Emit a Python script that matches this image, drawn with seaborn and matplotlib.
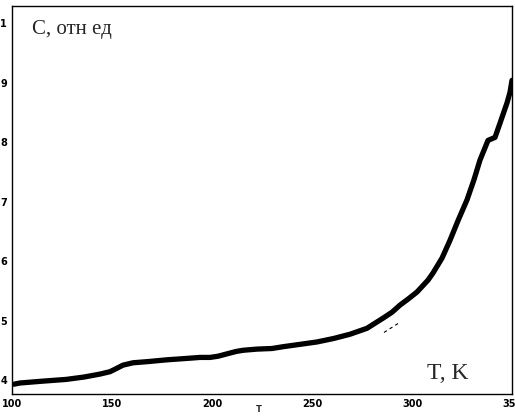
import matplotlib
matplotlib.use("Agg")
import matplotlib.pyplot as plt
import seaborn as sns
import pandas as pd

# Data
T = [101, 104, 115, 127, 136, 144, 149, 152, 155.5, 160.5, 168, 177.5, 186, 194, 199,
     203, 207.5, 212, 215.5, 222.5, 230, 235.5, 244, 252.5, 261, 269, 277.5, 285.5,
     290, 294, 298, 302.5, 308, 310.5, 315, 319, 323, 327.5, 331, 334, 338, 341.5,
     344, 347.5, 349, 350]
C = [3.93, 3.95, 3.98, 4.01, 4.05, 4.10, 4.14, 4.19, 4.25, 4.29, 4.31, 4.34, 4.36, 4.38, 4.38,
     4.40, 4.44, 4.48, 4.50, 4.52, 4.53, 4.56, 4.60, 4.64, 4.70, 4.77, 4.87, 5.04,
     5.14, 5.26, 5.36, 5.48, 5.68, 5.80, 6.05, 6.35, 6.68, 7.03, 7.37, 7.70, 8.03, 8.08,
     8.32, 8.66, 8.84, 9.04]
dash_T = [286, 293]
dash_C = [4.80, 4.95]

xticks = [100, 150, 200, 250, 300, 350]
xtick_labels = ["100", "150", "200", "250", "300", "350"]
yticks = [4, 5, 6, 7, 8, 9, 10]
ytick_labels = ["4", "5", "6", "7", "8", "9", "1"]

sns.set_style("white")
fig = plt.figure(figsize=(5.15, 4.16), dpi=100)
ax = fig.add_axes([0.0233, 0.0529, 0.9709, 0.9327])

df = pd.DataFrame({"T": T, "C": C})
sns.lineplot(data=df, x="T", y="C", ax=ax, color="black", lw=3.8, solid_capstyle="round")
ax.plot(dash_T, dash_C, color="black", lw=0.8, ls=(0, (3, 3)))

ax.set_xlim(100, 350)
ax.set_ylim(3.765, 10.29)
ax.set_xticks(xticks)
ax.set_xticklabels(xtick_labels, fontsize=7, fontweight="bold", family="DejaVu Sans Condensed")
ax.set_yticks(yticks)
ax.set_yticklabels(ytick_labels, fontsize=7, fontweight="bold")
ax.tick_params(axis="both", length=2.5, width=0.8, pad=1, colors="black", direction="out")
for s in ax.spines.values():
    s.set_color("black")
    s.set_linewidth(1.0)
ax.set_xlabel("T", fontsize=6, fontweight="bold")
ax.xaxis.set_label_coords(0.494, -0.028)
ax.xaxis.label.set_va("top")
ax.set_ylabel("")

ax.text(0.04, 0.965, "С, отн ед", transform=ax.transAxes, fontsize=15,
        family="Liberation Serif", va="top", ha="left")
ax.text(0.83, 0.025, "T, K", transform=ax.transAxes, fontsize=17,
        family="Liberation Serif", va="bottom", ha="left")

fig.savefig("out.png", dpi=100)
